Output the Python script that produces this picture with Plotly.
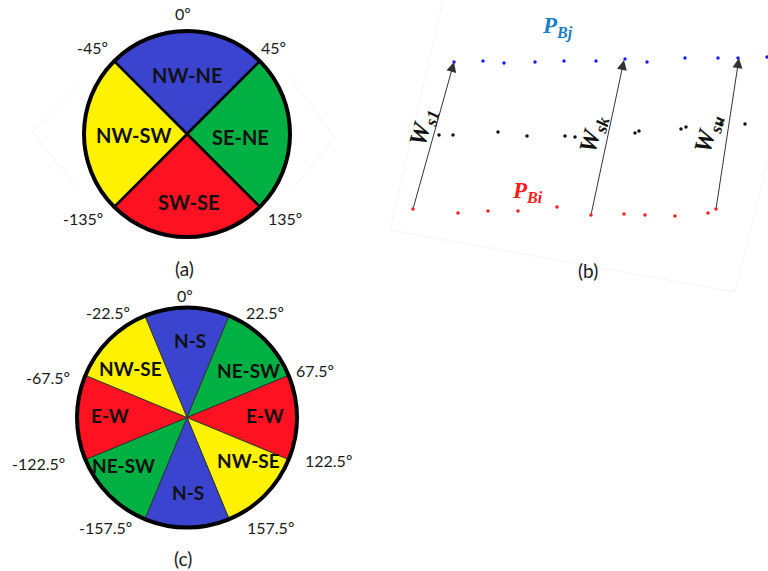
import plotly.graph_objects as go

W, H = 768, 571

# ---------------- Panel (a) data ----------------
a_labels = ["NW-NE", "SE-NE", "SW-SE", "NW-SW"]
a_theta = [0, 90, 180, 270]
a_width = [90, 90, 90, 90]
a_colors = ["#3a44cf", "#00b043", "#fe1120", "#fff200"]
a_ticks = ["0º", "45º", "135º", "-135º", "-45º"]

# ---------------- Panel (c) data ----------------
c_labels = ["N-S", "NE-SW", "E-W", "NW-SE", "N-S", "NE-SW", "E-W", "NW-SE"]
c_theta = [0, 45, 90, 135, 180, 225, 270, 315]
c_width = [45, 45, 45, 45, 45, 45, 45, 45]
c_colors = ["#3a44cf", "#00b043", "#fe1120", "#fff200",
            "#3a44cf", "#00b043", "#fe1120", "#fff200"]
c_ticks = ["0º", "22.5º", "67.5º", "122.5º", "157.5º",
           "-157.5º", "-122.5º", "-67.5º", "-22.5º"]

# ---------------- Panel (b) data ----------------
pbj_x = [454, 483, 504, 535, 564, 596, 625, 647, 685, 718, 738, 767]
pbj_y = [62, 61, 63, 62, 61, 61, 59, 62, 58, 58, 58, 57]
mid_x = [439, 453, 498, 527, 565, 575, 635, 639, 681, 686, 721, 745]
mid_y = [135, 135, 132, 136, 136, 137, 133, 131, 129, 127, 123, 124]
pbi_x = [413, 458, 488, 518, 557, 591, 624, 645, 675, 708, 716]
pbi_y = [209, 213, 211, 211, 207, 215, 214, 215, 216, 213, 209]
ws_subs = ["s1", "sk", "su"]
ws_tail_x = [413, 591, 716]
ws_tail_y = [209, 215, 209]
ws_head_x = [454, 624, 739]
ws_head_y = [62, 60, 58]

fig = go.Figure()

fig.add_trace(go.Scatter(x=pbj_x, y=pbj_y, mode="markers",
                         marker=dict(color="#1a1aff", size=3.5), hoverinfo="skip",
                         showlegend=False))
fig.add_trace(go.Scatter(x=mid_x, y=mid_y, mode="markers",
                         marker=dict(color="#111111", size=3.5), hoverinfo="skip",
                         showlegend=False))
fig.add_trace(go.Scatter(x=pbi_x, y=pbi_y, mode="markers",
                         marker=dict(color="#ff1a1a", size=3.5), hoverinfo="skip",
                         showlegend=False))

fig.add_trace(go.Barpolar(r=[1] * len(a_theta), theta=a_theta, width=a_width,
                          marker=dict(color=a_colors, line=dict(color="black", width=2.5)),
                          subplot="polar", showlegend=False, hoverinfo="skip"))
fig.add_trace(go.Barpolar(r=[1] * len(c_theta), theta=c_theta, width=c_width,
                          marker=dict(color=c_colors, line=dict(color="#333333", width=1)),
                          subplot="polar2", showlegend=False, hoverinfo="skip"))

polar_common = dict(
    bgcolor="rgba(0,0,0,0)",
    radialaxis=dict(visible=False, range=[0, 1]),
    angularaxis=dict(rotation=90, direction="clockwise", showticklabels=False,
                     ticks="", showgrid=False, showline=True, linecolor="black",
                     linewidth=4),
)

def dom(x0, x1, ytop, ybot):
    return dict(x=[x0 / W, x1 / W], y=[(H - ybot) / H, (H - ytop) / H])

annotations = []

def txt(x, y, s, size, bold=False, color="#1a1a1a", family="Lato"):
    annotations.append(dict(x=x, y=y, xref="x", yref="y", text=(f"<b>{s}</b>" if bold else s),
                            showarrow=False, font=dict(size=size, color=color, family=family),
                            xanchor="center", yanchor="middle"))

# panel (a) texts
a_tick_pos = [(183, 13), (273, 47), (285, 218), (83, 218), (92, 47)]
for s, (x, y) in zip(a_ticks, a_tick_pos):
    txt(x, y, s, 16)
a_lab_pos = [(187, 75), (240, 137), (188, 202), (133, 135)]
for s, (x, y) in zip(a_labels, a_lab_pos):
    txt(x, y, s, 20, bold=True, color="#111111")
txt(184, 268, "(a)", 19)

# panel (c) texts
c_tick_pos = [(185, 295), (265, 312), (315, 370), (328, 460), (270, 527),
              (105, 527), (38, 463), (48, 377), (108, 312)]
for s, (x, y) in zip(c_ticks, c_tick_pos):
    txt(x, y, s, 16)
c_lab_pos = [(190, 340), (248, 370), (265, 415), (248, 460), (188, 492),
             (123, 465), (110, 415), (130, 368)]
for s, (x, y) in zip(c_labels, c_lab_pos):
    txt(x, y, s, 19, bold=True, color="#111111")
txt(183, 558, "(c)", 19)

# panel (b) arrows
for tx, ty, hx, hy in zip(ws_tail_x, ws_tail_y, ws_head_x, ws_head_y):
    annotations.append(dict(x=hx, y=hy, ax=tx, ay=ty, xref="x", yref="y",
                            axref="x", ayref="y", text="", showarrow=True,
                            arrowhead=2, arrowsize=2.0, arrowwidth=1,
                            arrowcolor="#333333"))
ws_pos = [(423, 127), (593, 134), (708, 134)]
for sub, (x, y) in zip(ws_subs, ws_pos):
    annotations.append(dict(x=x, y=y, xref="x", yref="y",
                            text=f"<b><i>W</i></b><sub><b><i>{sub}</i></b></sub>",
                            showarrow=False, textangle=-75,
                            font=dict(size=25, color="#111111", family="Liberation Serif"),
                            xanchor="center", yanchor="middle"))
annotations.append(dict(x=557, y=27, xref="x", yref="y",
                        text="<b><i>P</i></b><sub><b><i>Bj</i></b></sub>",
                        showarrow=False, font=dict(size=23, color="#1a80c4",
                                                   family="Liberation Serif")))
annotations.append(dict(x=527, y=192, xref="x", yref="y",
                        text="<b><i>P</i></b><sub><b><i>Bi</i></b></sub>",
                        showarrow=False, font=dict(size=23, color="#ff1a1a",
                                                   family="Liberation Serif")))
txt(588, 270, "(b)", 19)

# faint background frames of the original images
faint = dict(color="#f4f4f4", width=1)
shapes = [
    dict(type="path", path="M 443 0 L 390 230 L 735 292 L 767 163",
         line=faint, xref="x", yref="y", layer="below"),
    dict(type="path", path="M 83 80 L 32 132 L 77 187",
         line=faint, xref="x", yref="y", layer="below"),
    dict(type="path", path="M 290 77 L 335 138 L 290 192",
         line=faint, xref="x", yref="y", layer="below"),
]

fig.update_layout(
    width=W, height=H,
    margin=dict(l=0, r=0, t=0, b=0),
    paper_bgcolor="white", plot_bgcolor="white",
    xaxis=dict(range=[0, W], domain=[0, 1], visible=False, fixedrange=True),
    yaxis=dict(range=[H, 0], domain=[0, 1], visible=False, fixedrange=True),
    polar=dict(domain=dom(84, 290, 31, 237), **polar_common),
    polar2=dict(domain=dom(77, 297, 307.5, 527.5), **polar_common),
    annotations=annotations,
    shapes=shapes,
    showlegend=False,
)

fig.write_html("out.html", config={"displayModeBar": False},
               post_script="document.body.style.margin='0';document.body.style.overflow='hidden';")
